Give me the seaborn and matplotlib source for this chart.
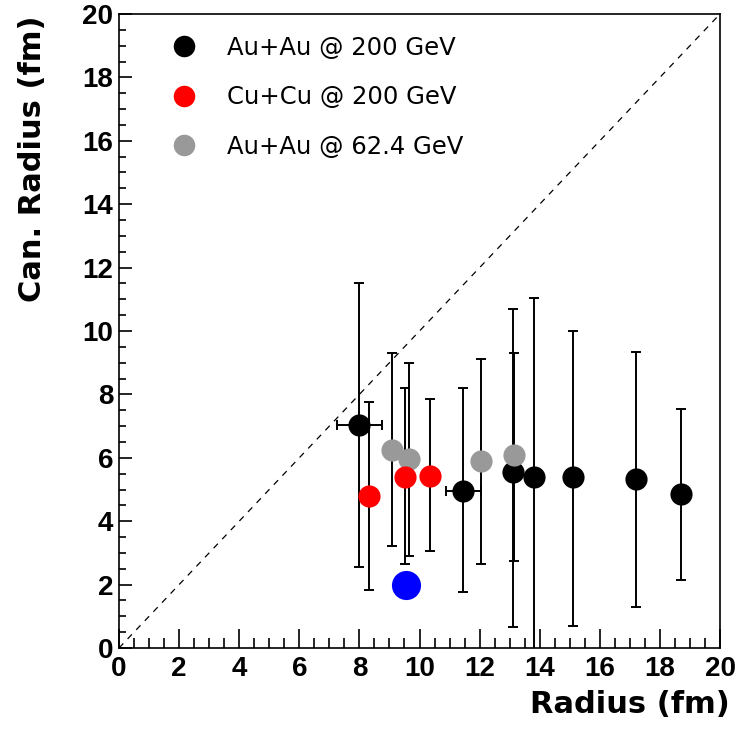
import numpy as np
import pandas as pd
import matplotlib
matplotlib.use("Agg")
import matplotlib.pyplot as plt
from matplotlib.lines import Line2D
from matplotlib.ticker import MultipleLocator
import seaborn as sns

# Au+Au @ 200 GeV
au200_x = [8.0, 11.45, 13.1, 13.8, 15.12, 17.19, 18.69]
au200_y = [7.05, 4.96, 5.56, 5.39, 5.38, 5.33, 4.85]
au200_lo = [2.55, 1.77, 0.66, -0.5, 0.69, 1.29, 2.15]
au200_hi = [11.5, 8.2, 10.7, 11.04, 10.0, 9.35, 7.54]
au200_xerr = [0.75, 0.58, 0.0, 0.0, 0.0, 0.0, 0.0]

# Cu+Cu @ 200 GeV
cu200_x = [8.33, 9.52, 10.35]
cu200_y = [4.79, 5.39, 5.43]
cu200_lo = [1.82, 2.65, 3.06]
cu200_hi = [7.75, 8.2, 7.86]

# Au+Au @ 62.4 GeV
au62_x = [9.07, 9.65, 12.05, 13.15]
au62_y = [6.25, 5.96, 5.89, 6.09]
au62_lo = [3.23, 2.9, 2.64, 2.74]
au62_hi = [9.32, 9.0, 9.11, 9.3]

# single extra point
extra_x = [9.56]
extra_y = [1.99]

labels = ["Au+Au @ 200 GeV", "Cu+Cu @ 200 GeV", "Au+Au @ 62.4 GeV"]
colors = {"Au+Au @ 200 GeV": "#000000",
          "Cu+Cu @ 200 GeV": "#ff0000",
          "Au+Au @ 62.4 GeV": "#999999"}

def frame(label, x, y, lo, hi, xerr=None):
    return pd.DataFrame({"system": label, "radius": x, "can": y,
                         "lo": lo, "hi": hi,
                         "xerr": xerr if xerr is not None else [0.0] * len(x)})

df = pd.concat([
    frame(labels[0], au200_x, au200_y, au200_lo, au200_hi, au200_xerr),
    frame(labels[2], au62_x, au62_y, au62_lo, au62_hi),
    frame(labels[1], cu200_x, cu200_y, cu200_lo, cu200_hi),
], ignore_index=True)

sns.set_theme(style="white")
plt.rcParams["font.family"] = ["Liberation Sans", "DejaVu Sans"]
for key in ["text.color", "axes.labelcolor", "xtick.color", "ytick.color",
            "axes.edgecolor"]:
    plt.rcParams[key] = "black"

fig = plt.figure(figsize=(7.37, 7.32), dpi=100)
ax = fig.add_axes([119 / 737, 1 - 648 / 732, 601 / 737, 634 / 732])

# diagonal reference line
ax.plot([0, 20], [0, 20], color="black", lw=0.9, ls=(0, (5, 5)), zorder=1)

# error bars (all black)
for sysname in [labels[0], labels[2], labels[1]]:
    sub = df[df["system"] == sysname]
    yerr = np.vstack([sub["can"] - sub["lo"], sub["hi"] - sub["can"]])
    xe = sub["xerr"].to_numpy()
    ax.errorbar(sub["radius"], sub["can"], yerr=yerr,
                xerr=np.where(xe > 0, xe, np.nan),
                fmt="none", ecolor="black", elinewidth=1.4,
                capsize=3.8, capthick=1.4, zorder=2)

# data points, drawn in layer order
for z, sysname in enumerate([labels[0], labels[2], labels[1]]):
    sub = df[df["system"] == sysname]
    sns.scatterplot(data=sub, x="radius", y="can", ax=ax, color=colors[sysname],
                    s=255, linewidth=0, marker="o", legend=False, zorder=3 + z)

sns.scatterplot(x=extra_x, y=extra_y, ax=ax, color="#0000ff", s=440,
                linewidth=0, legend=False, zorder=7)

ax.set_xlim(0, 20)
ax.set_ylim(0, 20)
ax.xaxis.set_major_locator(MultipleLocator(2))
ax.xaxis.set_minor_locator(MultipleLocator(0.5))
ax.yaxis.set_major_locator(MultipleLocator(2))
ax.yaxis.set_minor_locator(MultipleLocator(0.5))
ax.tick_params(axis="x", which="major", direction="in", length=14, width=1.2,
               labelsize=20, pad=6)
ax.tick_params(axis="x", which="minor", direction="in", length=7, width=1.2)
ax.tick_params(axis="y", which="major", direction="in", length=9, width=1.2,
               labelsize=20, pad=4)
ax.tick_params(axis="y", which="minor", direction="in", length=5, width=1.2)
ax.tick_params(bottom=True, left=True, top=False, right=False, which="both")
for lab in ax.get_xticklabels() + ax.get_yticklabels():
    lab.set_fontweight("bold")

for sp in ax.spines.values():
    sp.set_color("black")
    sp.set_linewidth(1.2)

label_font = dict(family=["DejaVu Sans"], size=22, weight="bold")
ax.set_xlabel("Radius (fm)", fontdict=label_font)
ax.xaxis.label.set_horizontalalignment("right")
ax.xaxis.label.set_verticalalignment("baseline")
ax.xaxis.set_label_coords((730 - 119) / 601, (648 - 713) / 634)

ax.set_ylabel("Can. Radius (fm)", fontdict=label_font)
ax.yaxis.label.set_rotation_mode("anchor")
ax.yaxis.label.set_horizontalalignment("right")
ax.yaxis.label.set_verticalalignment("baseline")
ax.yaxis.set_label_coords((41 - 119) / 601, (648 - 15) / 634)

handles = [Line2D([], [], marker="o", ls="none", color=colors[l],
                  markersize=15.5, markeredgewidth=0) for l in labels]
ax.legend(handles, labels, loc="upper left",
          bbox_to_anchor=((172 - 119) / 601, (648 - 36) / 634),
          frameon=False, borderaxespad=0, borderpad=0,
          prop=dict(family=["DejaVu Sans"], size=17.5),
          labelspacing=1.04, handletextpad=1.27, handlelength=1.0)

fig.savefig("out.png", dpi=100)
